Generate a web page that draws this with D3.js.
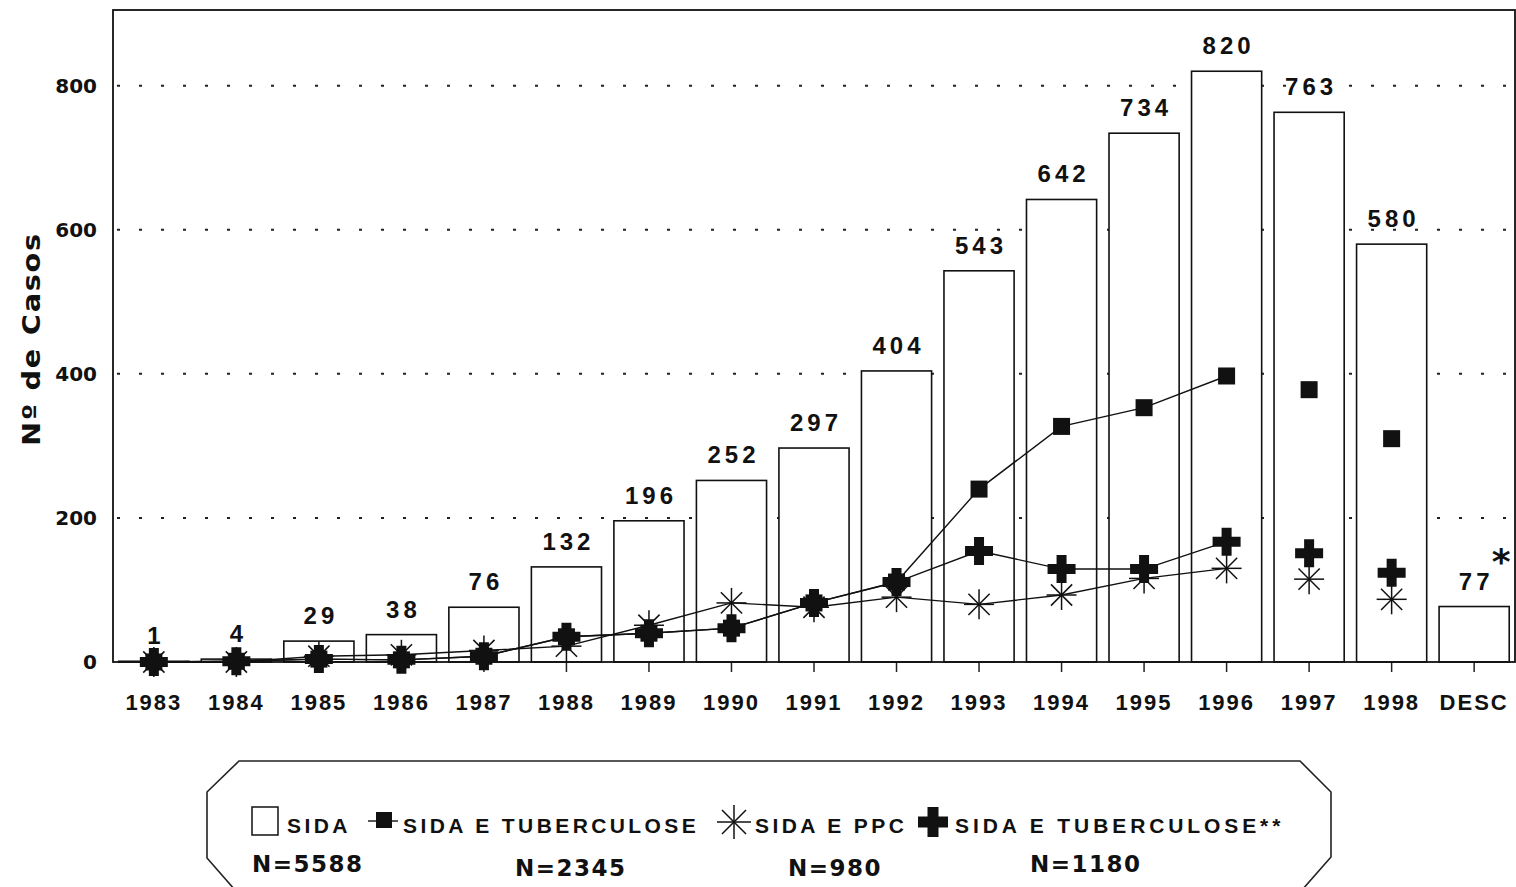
<html lang="pt">
<head>
<meta charset="UTF-8">
<title>SIDA - Nº de Casos</title>
<style>
  body { margin: 0; background: #fff; }
  svg { display: block; }
  .lib { font-family: "Liberation Sans", Arial, sans-serif; font-weight: bold; fill: #111; }
  .dv { font-family: "DejaVu Sans", sans-serif; font-weight: bold; fill: #111; }
</style>
</head>
<body>
<div id="chart"></div>
<script src="https://d3js.org/d3.v7.min.js"></script>
<script>
  // categories (years, plus unknown year)
  const categories = ["1983", "1984", "1985", "1986", "1987", "1988", "1989", "1990", "1991",
    "1992", "1993", "1994", "1995", "1996", "1997", "1998", "DESC"];
  // SIDA totals (bars)
  const sida = [1, 4, 29, 38, 76, 132, 196, 252, 297, 404, 543, 642, 734, 820, 763, 580, 77];
  // SIDA e tuberculose (squares), no value for DESC
  const sidaTb = [0, 1, 4, 3, 8, 35, 40, 47, 82, 111, 240, 327, 353, 397, 378, 310];
  // SIDA e PPC (asterisks)
  const sidaPpc = [0, 0, 8, 10, 16, 22, 51, 82, 76, 90, 80, 93, 116, 130, 115, 87];
  // SIDA e tuberculose** (crosses)
  const sidaTb2 = [0, 1, 4, 3, 8, 35, 40, 47, 82, 111, 154, 129, 129, 167, 151, 124];
  const lastJoined = "1996"; // lines stop here, later points stand alone
  const noteCat = "DESC";    // bar carrying the "*" note
  const yTicks = [0, 200, 400, 600, 800];
  const legendNames = ["SIDA", "SIDA E TUBERCULOSE", "SIDA E PPC", "SIDA E TUBERCULOSE**"];
  const legendN = ["N=5588", "N=2345", "N=980", "N=1180"];

  const W = 1516, H = 887;
  const pLeft = 113, pRight = 1515, pTop = 10, pBottom = 662;

  const svg = d3.select("#chart").append("svg")
    .attr("width", W)
    .attr("height", H);

  const x = d3.scaleBand()
    .domain(categories)
    .range([pLeft, pRight])
    .paddingInner(0.15)
    .paddingOuter(0.07);

  const y = d3.scaleLinear()
    .domain([0, 905])
    .range([pBottom, pTop]);

  const cx = (c) => x(c) + x.bandwidth() / 2;

  // dotted grid
  svg.append("g")
    .selectAll("line")
    .data(yTicks.filter(t => t > 0))
    .enter()
    .append("line")
    .attr("x1", pLeft + 4)
    .attr("x2", pRight)
    .attr("y1", d => y(d))
    .attr("y2", d => y(d))
    .attr("stroke", "#222")
    .attr("stroke-width", 2)
    .attr("stroke-dasharray", "3,19");

  // y axis
  const yAxis = d3.axisLeft(y).tickValues(yTicks).tickSize(0).tickPadding(16);
  const gy = svg.append("g")
    .attr("transform", "translate(" + pLeft + ",0)")
    .call(yAxis);
  gy.select(".domain").remove();
  gy.selectAll("text")
    .attr("class", "dv")
    .attr("font-size", 20);

  // x axis
  const xAxis = d3.axisBottom(x).tickSize(10).tickPadding(22);
  const gx = svg.append("g")
    .attr("transform", "translate(0," + pBottom + ")")
    .call(xAxis);
  gx.select(".domain").remove();
  gx.selectAll("line").attr("stroke", "#222").attr("stroke-width", 1.5);
  gx.selectAll("text")
    .attr("class", "lib")
    .attr("font-size", 22)
    .attr("letter-spacing", 2);

  // y title (wide face: stretched along the text direction)
  svg.append("text")
    .attr("class", "dv")
    .attr("transform", "translate(40,339) rotate(-90) scale(1.15,1)")
    .attr("text-anchor", "middle")
    .attr("font-size", 25)
    .attr("letter-spacing", 1.5)
    .text("Nº de Casos");

  // bars
  svg.append("g")
    .selectAll("rect")
    .data(categories)
    .enter()
    .append("rect")
    .attr("x", d => x(d))
    .attr("y", (d, i) => y(sida[i]))
    .attr("width", x.bandwidth())
    .attr("height", (d, i) => y(0) - y(sida[i]))
    .attr("fill", "#fff")
    .attr("stroke", "#111")
    .attr("stroke-width", 1.6);

  // bar labels
  svg.append("g")
    .selectAll("text")
    .data(categories)
    .enter()
    .append("text")
    .attr("class", "lib")
    .attr("x", d => cx(d) + 2)
    .attr("y", (d, i) => y(sida[i]) - 17)
    .attr("text-anchor", "middle")
    .attr("font-size", 24)
    .attr("letter-spacing", 4)
    .text((d, i) => sida[i]);

  // note star next to the DESC label
  const ni = categories.indexOf(noteCat);
  svg.append("text")
    .attr("class", "dv")
    .attr("x", cx(noteCat) + 27)
    .attr("y", y(sida[ni]) - 33)
    .attr("text-anchor", "middle")
    .attr("font-size", 36)
    .text("*");

  // frame
  svg.append("rect")
    .attr("x", pLeft)
    .attr("y", pTop)
    .attr("width", pRight - pLeft)
    .attr("height", pBottom - pTop)
    .attr("fill", "none")
    .attr("stroke", "#111")
    .attr("stroke-width", 1.8);

  // series lines
  const series = [sidaTb, sidaPpc, sidaTb2];
  const line = d3.line()
    .x(d => cx(d.c))
    .y(d => y(d.v));
  const joinIdx = categories.indexOf(lastJoined);
  series.forEach(s => {
    const pts = s.slice(0, joinIdx + 1).map((v, i) => ({ c: categories[i], v: v }));
    svg.append("path")
      .attr("d", line(pts))
      .attr("fill", "none")
      .attr("stroke", "#111")
      .attr("stroke-width", 1.4);
  });

  // marker shapes
  const asterisk = (g, r) => {
    [0, 45, 90, 135].forEach(a => {
      const t = a * Math.PI / 180;
      g.append("line")
        .attr("x1", -r * Math.cos(t)).attr("y1", -r * Math.sin(t))
        .attr("x2", r * Math.cos(t)).attr("y2", r * Math.sin(t))
        .attr("stroke", "#111").attr("stroke-width", 1.5);
    });
  };
  const cross = (g, r, w) => {
    g.append("path")
      .attr("d", "M" + (-w) + "," + (-r) + "H" + w + "V" + (-w) + "H" + r + "V" + w + "H" + w +
        "V" + r + "H" + (-w) + "V" + w + "H" + (-r) + "V" + (-w) + "H" + (-w) + "Z")
      .attr("fill", "#111");
  };
  const square = (g, s) => {
    g.append("rect")
      .attr("x", -s / 2).attr("y", -s / 2)
      .attr("width", s).attr("height", s)
      .attr("fill", "#111");
  };

  sidaPpc.forEach((v, i) => {
    asterisk(svg.append("g").attr("transform", "translate(" + cx(categories[i]) + "," + y(v) + ")"), 15);
  });
  sidaTb2.forEach((v, i) => {
    cross(svg.append("g").attr("transform", "translate(" + cx(categories[i]) + "," + y(v) + ")"), 14, 5);
  });
  sidaTb.forEach((v, i) => {
    square(svg.append("g").attr("transform", "translate(" + cx(categories[i]) + "," + y(v) + ")"), 17);
  });

  // legend box with cut corners (runs off the bottom edge)
  svg.append("path")
    .attr("d", "M235,890 L207,858 V792 L239,761 H1300 L1331,792 V857 L1302,890")
    .attr("fill", "none")
    .attr("stroke", "#222")
    .attr("stroke-width", 1.6);

  const lg = svg.append("g");
  const legendX = [287, 403, 755, 955];
  const nX = [252, 515, 788, 1030];
  const nY = [872, 876, 876, 872];
  // symbols
  lg.append("rect").attr("x", 252).attr("y", 807).attr("width", 26).attr("height", 28)
    .attr("fill", "#fff").attr("stroke", "#111").attr("stroke-width", 1.5);
  lg.append("line").attr("x1", 368).attr("x2", 398).attr("y1", 821).attr("y2", 821)
    .attr("stroke", "#111").attr("stroke-width", 1.4);
  square(lg.append("g").attr("transform", "translate(384,820)"), 16);
  asterisk(lg.append("g").attr("transform", "translate(734,822)"), 17);
  cross(lg.append("g").attr("transform", "translate(933,822)"), 15, 5.5);

  lg.selectAll("text.name")
    .data(legendNames)
    .enter()
    .append("text")
    .attr("class", "lib")
    .attr("x", (d, i) => legendX[i])
    .attr("y", 833)
    .attr("font-size", 21)
    .attr("letter-spacing", (d, i) => i === 3 ? 3.9 : 3.4)
    .text(d => d);

  lg.selectAll("text.n")
    .data(legendN)
    .enter()
    .append("text")
    .attr("class", "dv")
    .attr("x", (d, i) => nX[i])
    .attr("y", (d, i) => nY[i])
    .attr("font-size", 23)
    .attr("letter-spacing", 1.5)
    .text(d => d);
</script>
</body>
</html>
